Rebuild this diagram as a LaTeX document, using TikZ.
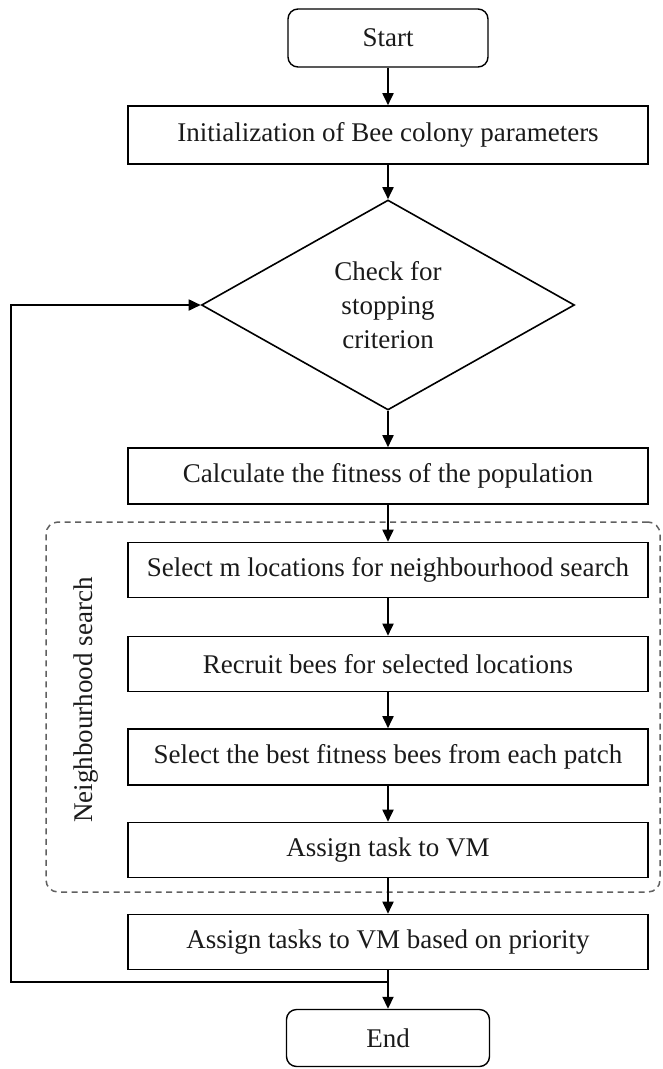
\documentclass[tikz,border=0pt]{standalone}
\usepackage{fontspec}
\setmainfont{Liberation Serif}
\usetikzlibrary{shapes.geometric,arrows.meta}
\definecolor{ink}{HTML}{1A1A1A}
\begin{document}
\begin{tikzpicture}[x=1pt,y=-1pt,
  every node/.style={font=\fontsize{27}{34}\selectfont, text=ink},
  procbox/.style={draw, line width=1.6pt, minimum width=520pt, minimum height=56pt, inner sep=0pt},
  termbox/.style={draw, line width=1.4pt, rounded corners=10pt, minimum width=200pt, minimum height=58pt, inner sep=0pt},
  decision/.style={draw, diamond, line width=1.6pt, aspect=1.78, minimum width=373pt, minimum height=210pt, inner sep=0pt, align=center},
  arr/.style={draw, line width=1.8pt, -{Triangle[length=12pt,width=11pt]}},
  group/.style={draw=gray!75!black, line width=1.5pt, dash pattern=on 6pt off 4.5pt, rounded corners=12pt, minimum width=614pt, minimum height=370pt, inner sep=0pt}
]
\useasboundingbox (0,0) rectangle (663,1069);
\node[group] (ns) at (353,707) {};
\node[rotate=90] (nslabel) at (86,700) {Neighbourhood search};

\node[termbox] (start) at (388,38) {Start};
\node[procbox, minimum height=58pt] (init) at (388,135) {Initialization of Bee colony parameters};
\node[decision] (check) at (388,305) {Check for\\stopping\\criterion};
\node[procbox] (calc) at (388,476) {Calculate the fitness of the population};
\node[procbox, minimum height=55pt] (sel) at (388,570) {Select m locations for neighbourhood search};
\node[procbox, minimum height=55pt] (recr) at (388,664) {Recruit bees for selected locations};
\node[procbox] (best) at (388,757) {Select the best fitness bees from each patch};
\node[procbox, minimum height=55pt] (asg) at (388,850) {Assign task to VM};
\node[procbox, minimum height=55pt] (asgp) at (388,942) {Assign tasks to VM based on priority};
\node[termbox, minimum width=203pt, minimum height=57pt] (end) at (388,1038) {End};

\draw[arr] (start) -- (init);
\draw[arr] (init) -- (check);
\draw[arr] (check) -- (calc);
\draw[arr] (calc) -- (sel);
\draw[arr] (sel) -- (recr);
\draw[arr] (recr) -- (best);
\draw[arr] (best) -- (asg);
\draw[arr] (asg) -- (asgp);
\draw[arr] (asgp) -- (end);

\coordinate (j) at (388,982);
\coordinate (lc) at (11,982);
\draw[arr] (j) -- (lc) |- (check.west);
\end{tikzpicture}
\end{document}
